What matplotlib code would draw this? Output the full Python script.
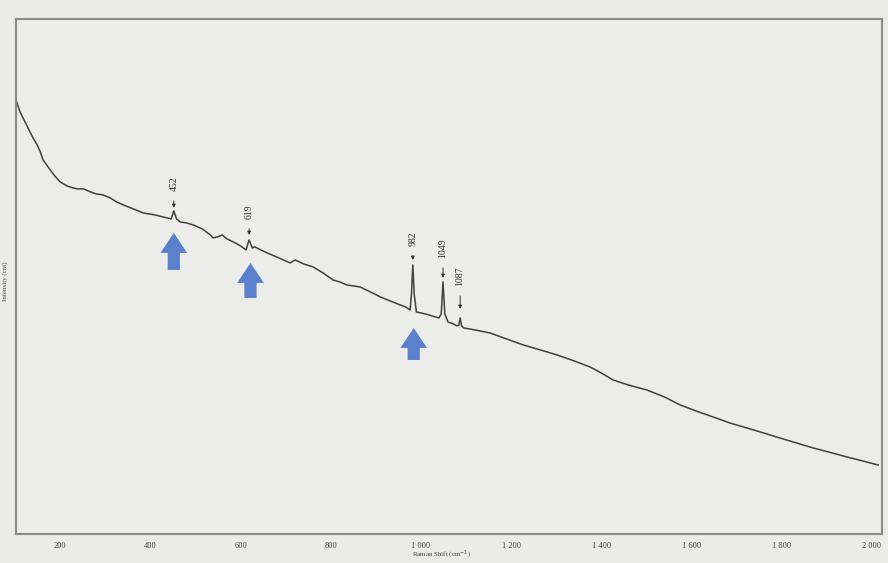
import numpy as np
import matplotlib.pyplot as plt

# Raman spectrum (shift in cm-1, intensity in counts)
shift = [102, 111, 122, 133, 141, 149, 156, 162, 170, 178, 188, 200, 215, 228, 238,
         252, 267, 280, 295, 311, 325, 340, 362, 384, 410, 437, 446, 452, 458, 466,
         480, 495, 515, 533, 539, 549, 559, 570, 584, 600, 612, 619, 626, 632, 645,
         659, 685, 710, 721, 740, 761, 783, 805, 820, 836, 850, 865, 888, 910, 932,
         954, 966, 976, 979, 982, 985, 990, 1010, 1025, 1040, 1045, 1049, 1053, 1060,
         1072, 1080, 1084, 1087, 1090, 1095, 1120, 1153, 1190, 1227, 1265, 1302, 1340,
         1375, 1400, 1426, 1460, 1501, 1540, 1575, 1610, 1648, 1685, 1723, 1760, 1796,
         1833, 1870, 1908, 1945, 1980, 2014]
intensity = [4340, 4220, 4120, 4020, 3950, 3890, 3820, 3740, 3690, 3640, 3580, 3520,
             3480, 3460, 3450, 3450, 3420, 3400, 3390, 3360, 3320, 3290, 3250, 3210,
             3190, 3160, 3150, 3230, 3150, 3120, 3110, 3090, 3050, 2990, 2960, 2970,
             2990, 2950, 2920, 2880, 2840, 2940, 2860, 2870, 2840, 2810, 2760, 2710,
             2740, 2700, 2670, 2610, 2540, 2520, 2490, 2480, 2470, 2420, 2370, 2330,
             2290, 2270, 2240, 2400, 2690, 2400, 2220, 2200, 2180, 2160, 2200, 2520,
             2200, 2120, 2100, 2080, 2090, 2160, 2080, 2060, 2040, 2010, 1950, 1890,
             1840, 1790, 1730, 1670, 1610, 1540, 1490, 1440, 1370, 1290, 1230, 1170,
             1110, 1060, 1010, 960, 910, 860, 815, 770, 730, 690]

# peak labels
peak_pos = [452, 619, 982, 1049, 1087]
peak_text = ["452", "619", "982", "1049", "1087"]
label_tip = [3260, 2990, 2740, 2560, 2250]
label_top = [3430, 3150, 2880, 2760, 2480]

# blue marker arrows
blue_x = [452, 622, 984]
blue_tip = [3010, 2710, 2060]
blue_base = [2640, 2360, 1740]

xticks = [200, 400, 600, 800, 1000, 1200, 1400, 1600, 1800, 2000]
xtick_labels = ["200", "400", "600", "800", "1 000", "1 200", "1 400", "1 600", "1 800", "2 000"]

plt.rcParams['font.family'] = ['Liberation Serif', 'DejaVu Serif']

fig = plt.figure(figsize=(8.88, 5.63), dpi=100, facecolor='#ebebea')
ax = fig.add_axes([0.018, 0.0515, 0.975, 0.915])
ax.set_facecolor('#ececea')

ax.plot(shift, intensity, color='#404040', lw=1.1)

for x, t, tip, top in zip(peak_pos, peak_text, label_tip, label_top):
    ax.annotate('', xy=(x, tip), xytext=(x, top - 100),
                arrowprops=dict(arrowstyle='-|>', color='#333333', lw=0.7,
                                mutation_scale=5, shrinkA=0, shrinkB=0))
    ax.text(x, top, t, rotation=90, ha='center', va='bottom', fontsize=7, color='#333333')

for x, tip, base in zip(blue_x, blue_tip, blue_base):
    ax.annotate('', xy=(x, tip), xytext=(x, base),
                arrowprops=dict(arrowstyle='simple,head_length=0.9,head_width=1.2,tail_width=0.55',
                                color='#5b80cc', lw=0, mutation_scale=16,
                                shrinkA=0, shrinkB=0))

ax.set_xlim(102, 2022)
ax.set_ylim(0, 5150)
ax.set_xticks(xticks)
ax.set_xticklabels(xtick_labels, fontsize=6, color='#444444')
ax.set_yticks([])
ax.tick_params(axis='x', length=0, pad=6)
for s in ax.spines.values():
    s.set_color('#8a8a8a')
    s.set_linewidth(1.5)

fig.text(0.464, 0.004, "Raman Shift (cm$^{-1}$)", fontsize=5, color='#444444',
         ha='left', va='bottom')
fig.text(0.006, 0.5, "Intensity (cnt)", fontsize=5, color='#444444', rotation=90,
         ha='center', va='center')

fig.savefig('out.png', dpi=100, facecolor=fig.get_facecolor())
